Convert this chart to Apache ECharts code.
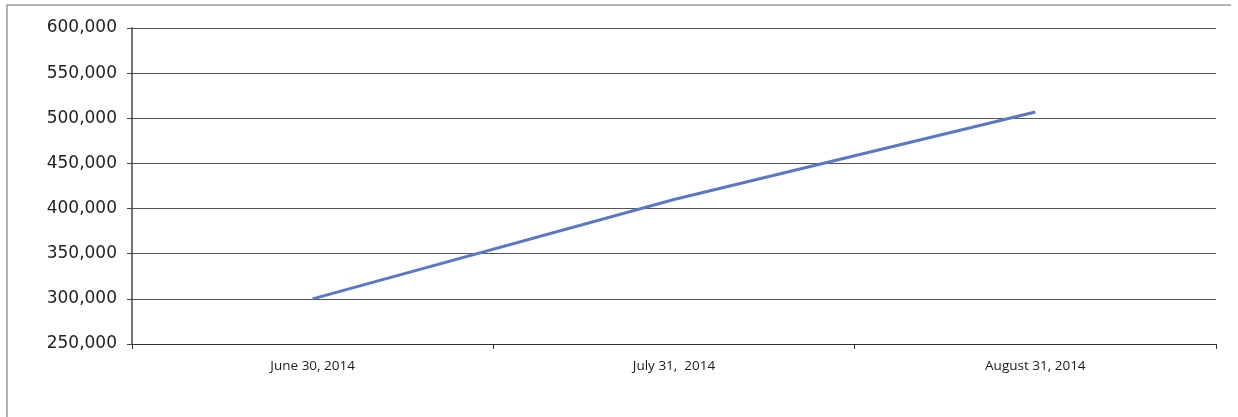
<!DOCTYPE html>
<html>
<head>
<meta charset="utf-8">
<script src="https://cdn.jsdelivr.net/npm/echarts@6/dist/echarts.min.js"></script>
<style>
    html, body { margin: 0; padding: 0; background: #fff; }
    #chart { width: 1238px; height: 417px; }
</style>
</head>
<body>
<div id="chart"></div>
<script>
// Chart data
const categories = ['June 30, 2014', 'July 31,  2014', 'August 31, 2014'];
const values = [300000, 410000, 507000];
const yMin = 250000;
const yMax = 600000;
const yStep = 50000;

document.addEventListener('DOMContentLoaded', function () {
    const chartDom = document.getElementById('chart');
    const myChart = echarts.init(chartDom);

    const option = {
        animation: false,
        backgroundColor: '#ffffff',
        // Outer frame (left and top edges visible in the scan)
        graphic: [
            {
                type: 'polyline',
                shape: { points: [[7, 417], [7, 5], [1231, 5]] },
                style: { stroke: '#9a9a9a', lineWidth: 1.5, fill: null },
                silent: true
            }
        ],
        grid: {
            left: 132,
            right: 22,
            top: 28,
            bottom: 73
        },
        xAxis: {
            type: 'category',
            data: categories,
            boundaryGap: true,
            axisLine: {
                lineStyle: { color: '#333', width: 1 }
            },
            axisTick: {
                show: true,
                length: 5,
                lineStyle: { color: '#333' }
            },
            axisLabel: {
                color: '#1a1a1a',
                fontFamily: 'Open Sans',
                fontSize: 13.5,
                margin: 15
            },
            splitLine: { show: false }
        },
        yAxis: {
            type: 'value',
            min: yMin,
            max: yMax,
            interval: yStep,
            axisLine: {
                show: true,
                lineStyle: { color: '#444', width: 1.5 }
            },
            axisTick: {
                show: true,
                length: 5,
                lineStyle: { color: '#444' }
            },
            axisLabel: {
                color: '#222',
                fontFamily: 'DejaVu Sans',
                fontSize: 17,
                margin: 15,
                formatter: function (v) {
                    return v.toString().replace(/\B(?=(\d{3})+(?!\d))/g, ',');
                }
            },
            splitLine: {
                lineStyle: { color: '#555', width: 1 }
            }
        },
        series: [
            {
                name: 'Value',
                type: 'line',
                data: values,
                symbol: 'none',
                lineStyle: {
                    width: 3,
                    color: '#5b77c6'
                }
            }
        ]
    };

    myChart.setOption(option);
});
</script>
</body>
</html>
